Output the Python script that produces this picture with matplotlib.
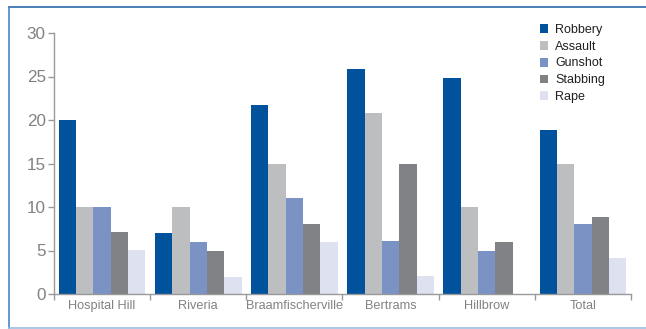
import numpy as np
import matplotlib.pyplot as plt
from matplotlib.lines import Line2D

# Data
areas = ['Hospital Hill', 'Riveria', 'Braamfischerville', 'Bertrams', 'Hillbrow', 'Total']
crimes = ['Robbery', 'Assault', 'Gunshot', 'Stabbing', 'Rape']
robbery = [20, 7, 21.7, 25.9, 24.8, 18.9]
assault = [10, 10, 15, 20.8, 10, 15]
gunshot = [10, 6, 11, 6.1, 5, 8.05]
stabbing = [7.1, 5, 8, 15, 6, 8.85]
rape = [5.05, 2, 6, 2.1, 0, 4.1]
colors = ['#00529c', '#bdbec0', '#7b93c4', '#808285', '#dde1f0']

plt.rcParams['font.family'] = ['Liberation Sans', 'DejaVu Sans']

fig = plt.figure(figsize=(6.46, 3.29), dpi=100)
ax = fig.add_axes([54/646, 1 - 294/329, 577/646, 261/329])

x = np.arange(len(areas))
w = 0.18
series = [robbery, assault, gunshot, stabbing, rape]
for i, (name, vals) in enumerate(zip(crimes, series)):
    ax.bar(x + (i - 2) * w, vals, w, color=colors[i], label=name, linewidth=0)

ax.set_xlim(-0.5, len(areas) - 0.5)
ax.set_ylim(0, 30)
ax.set_yticks(range(0, 31, 5))
ax.set_xticks(x)
ax.set_xticklabels(areas)
ax.set_xticks(np.arange(-0.5, len(areas)), minor=True)
ax.tick_params(axis='x', which='major', length=0, pad=4.5, labelsize=9.2, colors='#808285')
ax.tick_params(axis='x', which='minor', length=4, color='#999999', width=1)
ax.tick_params(axis='y', length=4, color='#999999', width=1, labelsize=12.3, colors='#808285', pad=2)

for s in ['top', 'right']:
    ax.spines[s].set_visible(False)
for s in ['left', 'bottom']:
    ax.spines[s].set_color('#999999')
    ax.spines[s].set_linewidth(1)

leg = ax.legend(loc='upper left', bbox_to_anchor=(486/577, 1 + 9/261), frameon=False,
                fontsize=9, handlelength=0.6, handleheight=0.7, handletextpad=0.6,
                labelspacing=0.38, borderaxespad=0, borderpad=0)
for t in leg.get_texts():
    t.set_color('#231f20')

# frame around the figure
fig.add_artist(Line2D([9/646, 1], [1 - 6.5/329] * 2, transform=fig.transFigure, color='#2c6aad', lw=1.2))
fig.add_artist(Line2D([9/646, 9/646], [1 - 6.5/329, 1 - 327.5/329], transform=fig.transFigure, color='#4a86c8', lw=1.2))
fig.add_artist(Line2D([9/646, 1], [1 - 327.5/329] * 2, transform=fig.transFigure, color='#9dbde3', lw=1.2))

fig.savefig('out.png', dpi=100)
